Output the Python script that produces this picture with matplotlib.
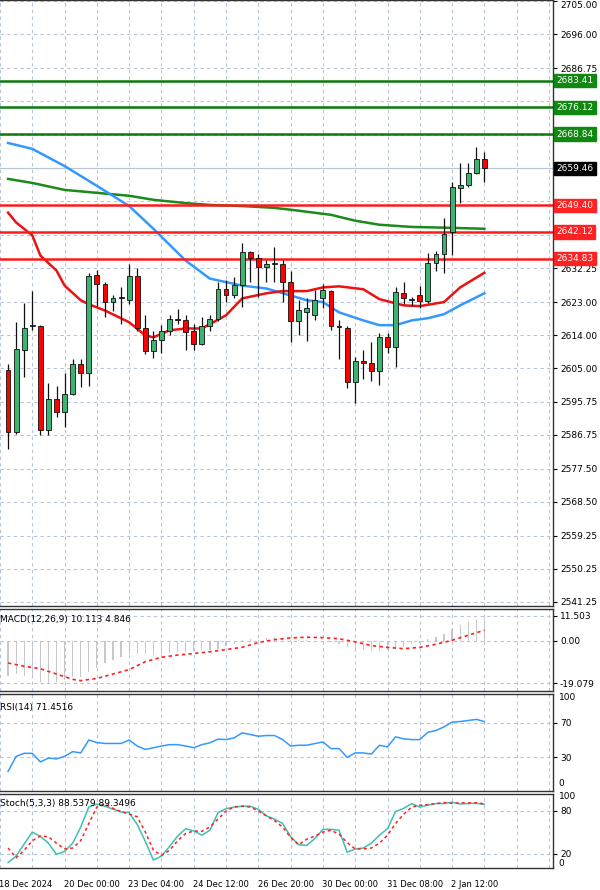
import matplotlib
matplotlib.use("Agg")
import matplotlib.pyplot as plt
import matplotlib.transforms as mtransforms
import numpy as np

# ---- data ----
opens = [2604.5, 2587.5, 2610, 2616.4, 2616.5, 2588, 2596.5, 2593, 2598, 2606,
         2603.6, 2630.4, 2628, 2623, 2624.5, 2623.5, 2630, 2616, 2609.6, 2612.6,
         2615, 2618.4, 2618, 2615, 2611.5, 2616.5, 2618.4, 2626.5, 2625, 2627.6,
         2636.6, 2635, 2632.5, 2633.4, 2633.4, 2628.5, 2617.8, 2620.3, 2619.5, 2624,
         2626, 2616.5, 2616, 2601.2, 2607, 2606.4, 2604.2, 2613.5, 2610.7, 2625.5,
         2623.5, 2625, 2623.3, 2633.6, 2636, 2642, 2654, 2655, 2658.2, 2662]
closes = [2587.5, 2610.2, 2616, 2616.6, 2588, 2596.5, 2593, 2598, 2606, 2603.6,
          2630, 2628, 2623, 2624, 2624, 2630, 2616, 2609.6, 2612.6, 2615,
          2618.4, 2618.2, 2614.8, 2611.5, 2616.5, 2618.4, 2626.5, 2625, 2627.6, 2636.6,
          2635, 2632.5, 2633.5, 2633.6, 2628.5, 2617.8, 2620.8, 2621.5, 2623.5, 2626.3,
          2616.5, 2616.3, 2601.2, 2607, 2606.4, 2604.2, 2613.5, 2610.7, 2625.7, 2624,
          2623.6, 2623.3, 2633.6, 2636, 2641.5, 2654.4, 2655, 2658.2, 2662, 2659.46]
highs = [2606, 2617.5, 2622.7, 2626, 2616.8, 2601, 2600, 2603.6, 2607.5, 2607.5,
         2631, 2631.7, 2628.5, 2625, 2627, 2633.4, 2632.3, 2619.5, 2615, 2616.7,
         2619.5, 2621, 2619.5, 2617, 2619, 2619.5, 2628.5, 2629, 2629.8, 2639,
         2637, 2636, 2634.5, 2638, 2634.5, 2631.5, 2623.5, 2624, 2626.3, 2628,
         2626.3, 2618, 2616.5, 2608, 2610, 2612, 2614.5, 2614.5, 2627, 2628.5,
         2624.5, 2627.5, 2636.4, 2637, 2646, 2655.7, 2661, 2661, 2665.3, 2664]
lows = [2583, 2587, 2602.5, 2615.5, 2586.7, 2586.7, 2591.7, 2589, 2597.6, 2599.8,
        2600, 2622, 2619, 2620.5, 2617, 2622.5, 2615, 2608.8, 2607.7, 2609,
        2614, 2617, 2610, 2610, 2611.3, 2615, 2617.8, 2623, 2624, 2621.6,
        2628.5, 2624.5, 2628.5, 2628.5, 2623, 2612, 2614, 2612.5, 2618, 2621.5,
        2615.5, 2607.5, 2599.5, 2595.5, 2602, 2601.5, 2600.5, 2609, 2605.3, 2622.5,
        2622, 2621.5, 2622.8, 2631.5, 2631, 2635.8, 2650, 2654.5, 2658, 2655.7]

ma_blue_idx = [0, 3, 7, 11, 15, 18, 22, 25, 29, 32, 35, 37, 39, 41, 44, 46, 48, 50, 52, 54, 56, 59]
ma_blue = [2666.4, 2664.8, 2660.1, 2654.7, 2649.2, 2643, 2634.3, 2629.4, 2627.5, 2626.7, 2624.8,
           2623.5, 2623, 2620.2, 2618, 2616.7, 2616.7, 2618, 2618.6, 2619.7, 2622.1, 2625.4]
ma_red_idx = [0, 1, 3, 4, 6, 7, 9, 10, 12, 15, 17, 18, 20, 22, 24, 27, 29, 32, 34, 37, 39, 41,
              44, 46, 49, 51, 54, 56, 59]
ma_red = [2647.4, 2644.7, 2641.2, 2635.7, 2631.6, 2627.5, 2623.5, 2622.4, 2620.7, 2617.5, 2613.9,
          2613.4, 2615.3, 2615.8, 2615.8, 2619.4, 2624, 2625.4, 2626, 2626, 2627, 2627.3,
          2626.5, 2623.8, 2622.1, 2621.9, 2623, 2627, 2631]
ma_green_idx = [0, 3, 7, 11, 15, 18, 22, 25, 29, 33, 35, 40, 43, 46, 50, 54, 59]
ma_green = [2656.6, 2655.5, 2653.6, 2652.8, 2652, 2650.9, 2650, 2649.5, 2649.2, 2648.7, 2648.2,
            2646.8, 2645.2, 2644.1, 2643.5, 2643.3, 2643]

res_levels = [2683.41, 2676.12, 2668.84]
sup_levels = [2649.40, 2642.12, 2634.83]
last_price = 2659.46
price_ticks = [2705.00, 2696.00, 2686.75, 2677.75, 2668.50, 2659.50, 2650.50, 2641.25, 2632.25,
               2623.00, 2614.00, 2605.00, 2595.75, 2586.75, 2577.50, 2568.50, 2559.25, 2550.25, 2541.25]
hidden_ticks = [2677.75, 2668.50, 2659.50, 2650.50, 2641.25]  # covered by level labels

macd_hist = [-15.7, -15, -16, -16.8, -18.5, -19.1, -18.5, -17.8, -16.4, -16.4,
             -14.3, -12.2, -10.1, -8.5, -7.1, -6, -5.7, -6, -6.3, -5.7,
             -5.3, -5, -4.9, -4.6, -4.3, -3.9, -3.6, -2.5, -1.4, 0.3,
             1, 0.3, 1.2, 1.7, 1, 0.3, 0.5, 0.3, 0, 0,
             -0.5, -1.5, -2.6, -3.3, -4, -4.5, -4.5, -4, -3.3, -2.6,
             -1.6, -0.7, 1, 1.7, 3.1, 5.5, 7.3, 8.7, 9.7, 10.113]
macd_sig_idx = [0, 2, 4, 6, 8, 9, 11, 13, 15, 17, 19, 21, 23, 25, 27, 29, 31, 33, 35, 37, 39,
                41, 43, 45, 47, 49, 51, 53, 55, 57, 59]
macd_sig = [-10, -11.5, -12.6, -15, -17.4, -18, -17, -15, -13, -9.4, -7.4, -6.4, -5.7, -4.9,
            -3.9, -2.9, -0.7, 0.6, 1.4, 1.7, 1.5, 1, -0.4, -2.1, -2.9, -3.5, -2.9, -1.5, 0.3,
            2.6, 4.846]

rsi = [13.5, 31, 34.5, 34.5, 24.5, 29, 28, 31, 36.5, 35,
       50, 47, 46, 46, 46, 50, 43, 39, 41, 43,
       44.6, 44.6, 43, 41, 44.6, 46.7, 51, 50.5, 52.5, 58.3,
       56.4, 54.4, 55.2, 55.2, 50.5, 43, 43.9, 43.9, 45.9, 47.8,
       40, 40, 29.8, 35, 35, 33.6, 43.9, 42, 53.7, 51.3,
       50.5, 50.5, 59, 61, 65.3, 70.8, 71.5, 72.7, 74, 71.45]

stoch_k = [7.6, 16.6, 33.6, 50, 44, 34.5, 19, 23, 34.5, 57,
           85, 89, 86, 82, 78, 77, 60.5, 37, 11, 16.6,
           30, 44.4, 54.7, 51.6, 45.7, 52.5, 77, 82.5, 84.8, 86,
           86, 81.6, 72.6, 68, 62, 43.5, 32.3, 31.4, 41, 53.8,
           53.8, 52.5, 22, 26.5, 27.8, 34.5, 45.7, 54.7, 78.5, 83,
           89.7, 84.8, 87.4, 89.7, 89.7, 91.5, 89.2, 89.7, 90, 88.54]
stoch_d = [27.8, 14.3, 24.7, 38, 44.4, 43.5, 34.5, 26.5, 27.8, 38,
           62, 85, 89, 83, 78.5, 75, 71.3, 50, 24.7, 17.5,
           24.7, 38, 48, 51.6, 51, 57, 68, 79.4, 85, 86,
           84.8, 79.4, 72.6, 66, 57, 42.6, 32.3, 40, 44.4, 50,
           52.5, 47, 35.4, 26.5, 26.5, 27.8, 34.5, 45.7, 62, 75,
           84.8, 87.4, 88.3, 89.7, 91, 90, 90.6, 90.6, 90.6, 89.35]

date_idx = [-1, 7, 15, 23, 31, 39, 47, 55]
date_labels = ["18 Dec 2024", "20 Dec 00:00", "23 Dec 04:00", "24 Dec 12:00",
               "26 Dec 20:00", "30 Dec 00:00", "31 Dec 08:00", "2 Jan 12:00"]

# ---- layout ----
W, H = 600, 890
fig = plt.figure(figsize=(W / 100, H / 100), dpi=100)
fig.patch.set_facecolor("white")
XR = 553


def pax(top, bot):
    return fig.add_axes([0, 1 - bot / H, XR / W, (bot - top) / H])


GRID = dict(color="#b8c4d8", lw=0.8, ls=(0, (3, 3)))
XLIM = (-0.25, 67.5)
n = len(opens)
x = np.arange(n)


def style(ax, ticks, labels, ylim):
    ax.set_xlim(*XLIM); ax.set_ylim(*ylim)
    ax.set_xticks(np.arange(-1, 68, 4)); ax.set_xticklabels([])
    ax.tick_params(axis="x", length=0)
    ax.yaxis.tick_right()
    ax.set_yticks(ticks); ax.set_yticklabels(labels)
    ax.tick_params(axis="y", labelsize=6.5, length=3, pad=2)
    ax.grid(True, **GRID)
    for s in ax.spines.values():
        s.set_color("#333"); s.set_linewidth(1.0)
    ax.spines["left"].set_visible(False)


# main price panel
ax = pax(0, 606)
plabels = ["" if t in hidden_ticks else "%.2f" % t for t in price_ticks]
style(ax, price_ticks, plabels, (2540.1, 2705.4))
ax.get_yticklabels()[0].set_va("top")
ax.axhline(last_price, color="#b8c4d8", lw=0.8, zorder=1)
ax.plot(ma_green_idx, ma_green, color="#1a8a1a", lw=1.8, zorder=2)
ax.plot(ma_blue_idx, ma_blue, color="#3399ff", lw=1.8, zorder=2)
ax.plot(ma_red_idx, ma_red, color="#ee1111", lw=1.8, zorder=2)
for i in range(n):
    o, c = opens[i], closes[i]
    ax.vlines(x[i], lows[i], highs[i], color="#111", lw=0.9, zorder=3)
    fc = "#3cb371" if c >= o else "#ff0000"
    h = max(abs(c - o), 0.25)
    ax.bar(x[i], h, bottom=min(o, c), width=0.6, color=fc, edgecolor="#111", lw=0.6, zorder=4)
for lv in res_levels:
    ax.axhline(lv, color="#0a7a0a", lw=1.8, zorder=2)
for lv in sup_levels:
    ax.axhline(lv, color="#ff1a1a", lw=1.8, zorder=2)
tr = mtransforms.blended_transform_factory(ax.transAxes, ax.transData)
for lv, col in [(v, "#118811") for v in res_levels] + [(v, "#ff2222") for v in sup_levels] + [(last_price, "#000000")]:
    ax.text(1.006, lv, "%.2f" % lv, transform=tr, ha="left", va="center", fontsize=6.5, color="white",
            bbox=dict(boxstyle="square,pad=0.25", fc=col, ec=col), zorder=10, clip_on=False)

# MACD
ax2 = pax(609, 691)
style(ax2, [11.503, 0.0, -19.079], ["11.503", "0.00", "-19.079"], (-22.7, 14.5))
ax2.bar(x, macd_hist, width=0.15, color="#c8c8c8")
ax2.plot(macd_sig_idx, macd_sig, color="#ff2020", lw=1.2, ls=(0, (2, 2)))
ax2.text(0.0, 0.84, "MACD(12,26,9) 10.113 4.846", transform=ax2.transAxes, fontsize=6.5)

# RSI
ax3 = pax(694, 791)
style(ax3, [70, 30], ["70", "30"], (-9.3, 103.5))
for v, lab in [(100, "100"), (0, "0")]:
    ax3.text(1.01, v, lab, transform=mtransforms.blended_transform_factory(ax3.transAxes, ax3.transData),
             fontsize=6.5, va="center")
ax3.plot(x, rsi, color="#3399ff", lw=1.1)
ax3.text(0.0, 0.84, "RSI(14) 71.4516", transform=ax3.transAxes, fontsize=6.5)

# Stochastic
ax4 = pax(794, 868)
style(ax4, [80, 20], ["80", "20"], (0, 103))
for v, lab in [(100, "100"), (6, "0")]:
    ax4.text(1.01, v, lab, transform=mtransforms.blended_transform_factory(ax4.transAxes, ax4.transData),
             fontsize=6.5, va="center")
ax4.plot(x, stoch_k, color="#40c0b0", lw=1.1)
ax4.plot(x, stoch_d, color="#ff2020", lw=1.1, ls=(0, (2, 2)))
ax4.text(0.0, 0.84, "Stoch(5,3,3) 88.5379 89.3496", transform=ax4.transAxes, fontsize=6.5)

trx = mtransforms.blended_transform_factory(ax4.transData, ax4.transAxes)
for i, lab in zip(date_idx, date_labels):
    ax4.text(i - 0.1, -0.22, lab, transform=trx, ha="left", va="center", fontsize=6.0, clip_on=False)

fig.savefig("out.png", dpi=100, facecolor="white")
